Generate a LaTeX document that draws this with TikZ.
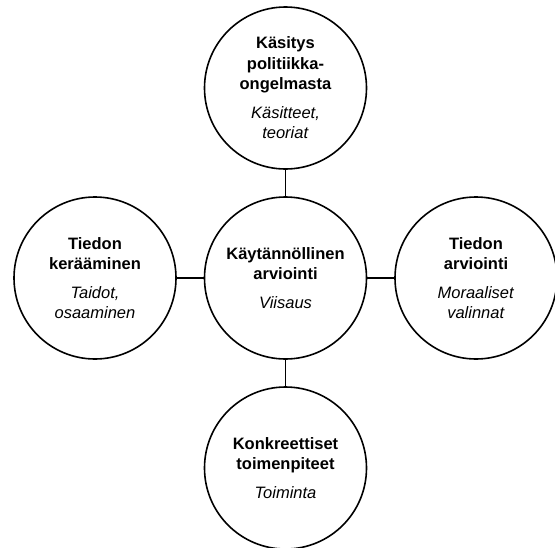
\documentclass[tikz,border=0pt]{standalone}
\usepackage{fontspec}
\setmainfont{Liberation Sans}
\begin{document}
\begin{tikzpicture}[x=1pt,y=-1pt,
  circ/.style={draw, circle, line width=1.6pt, minimum size=162pt, inner sep=0pt,
    align=center, font=\fontsize{16.5}{20.5}\selectfont},
  link/.style={line width=1.6pt}]
\useasboundingbox (0,0) rectangle (555,547);
\node[circ] (top) at (285.5,88) {\textbf{Käsitys}\\\textbf{politiikka-}\\\textbf{ongelmasta}\\[8pt]\textit{Käsitteet,}\\\textit{teoriat}};
\node[circ] (mid) at (285.5,278) {\textbf{Käytännöllinen}\\\textbf{arviointi}\\[8pt]\textit{Viisaus}};
\node[circ] (left) at (95,278) {\textbf{Tiedon}\\\textbf{kerääminen}\\[8pt]\textit{Taidot,}\\\textit{osaaminen}};
\node[circ] (right) at (476,278) {\textbf{Tiedon}\\\textbf{arviointi}\\[8pt]\textit{Moraaliset}\\\textit{valinnat}};
\node[circ] (bot) at (285.5,468) {\textbf{Konkreettiset}\\\textbf{toimenpiteet}\\[8pt]\textit{Toiminta}};
\draw[link] (top) -- (mid);
\draw[link] (left) -- (mid);
\draw[link] (mid) -- (right);
\draw[link] (mid) -- (bot);
\end{tikzpicture}
\end{document}
